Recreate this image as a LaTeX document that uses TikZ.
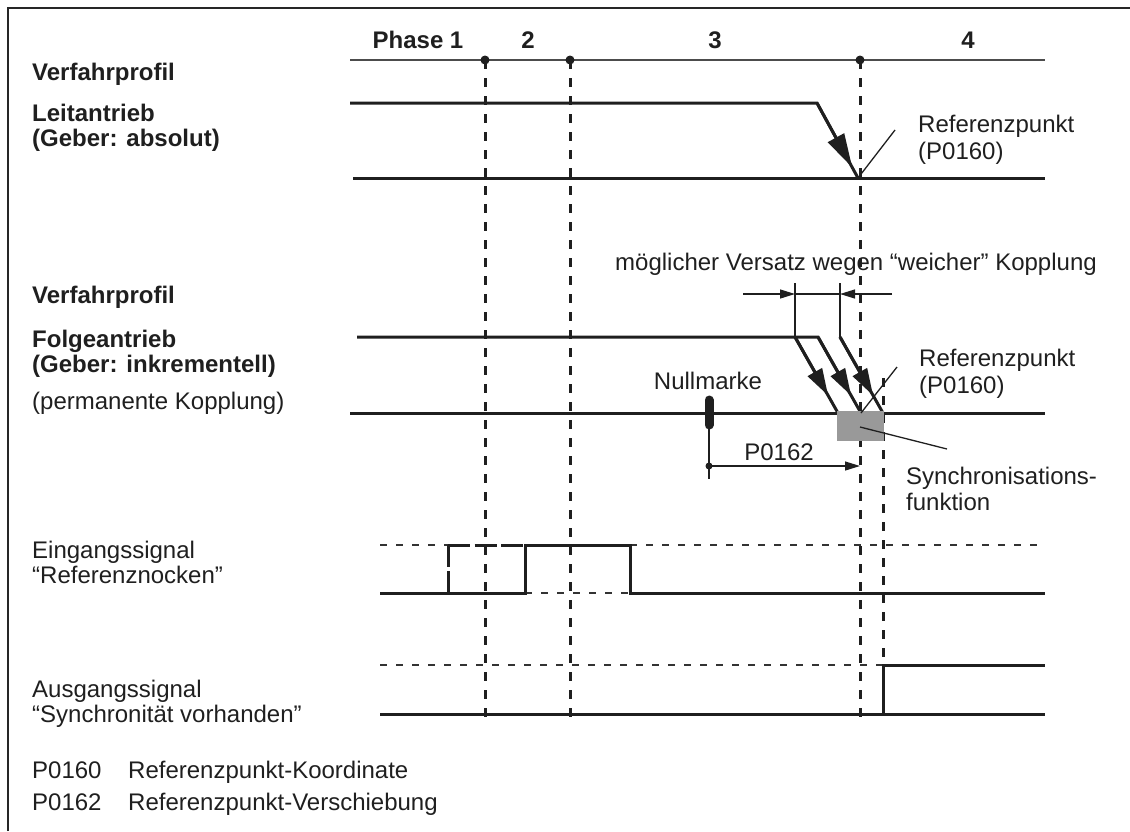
\documentclass[tikz,border=0pt]{standalone}
\usepackage{fontspec}
\setmainfont{Liberation Sans}
\usetikzlibrary{arrows.meta,calc}
\begin{document}
\begin{tikzpicture}[x=1pt,y=-1pt,
  lbl/.style={font=\fontsize{24}{26}\selectfont, text=black!88, inner sep=0pt, anchor=base west},
  lblb/.style={font=\fontsize{24}{26}\selectfont\bfseries, text=black!88, inner sep=0pt, anchor=base west},
  ctr/.style={font=\fontsize{24}{26}\selectfont, text=black!88, inner sep=0pt, anchor=base},
  ctrb/.style={font=\fontsize{24}{26}\selectfont\bfseries, text=black!88, inner sep=0pt, anchor=base},
  sig/.style={line width=3pt, black!88},
  tline/.style={line width=2.4pt, black!70},
  guide/.style={line width=3pt, dash pattern=on 9pt off 9pt, black!88},
  lvl/.style={line width=1.3pt, dash pattern=on 7pt off 9pt, black!80},
  alt/.style={line width=3pt, dash pattern=on 22pt off 4.5pt, black!88},
  thin/.style={line width=1.3pt, black!88},
  bighead/.style={-{Triangle[length=34pt,width=18pt]}},
  midhead/.style={-{Triangle[length=27pt,width=16pt]}},
  smallhead/.style={-{Triangle[length=15pt,width=9pt]}},
  dotm/.style={circle, fill=black!88, inner sep=0pt, minimum size=9pt},
]
\useasboundingbox (0,0) rectangle (1130,831);
% frame
\draw[line width=2pt, black!85] (8,831) -- (8,8) -- (1130,8);

% timeline
\coordinate (tl0) at (350,60);
\coordinate (tl1) at (1045,60);
\draw[tline] (tl0) -- (tl1);
\coordinate (p1) at (485,60);
\coordinate (p2) at (570,60);
\coordinate (p3) at (860,60);
\coordinate (p1b) at (485,717);
\coordinate (p2b) at (570,717);
\coordinate (p3b) at (860,717);
\coordinate (p4t) at (883,378);
\coordinate (p4b) at (883,665);
\draw[guide] (p1) -- (p1b);
\draw[guide] (p2) -- (p2b);
\draw[guide] (p3) -- (p3b);
\draw[guide] (p4t) -- (p4b);
\node[dotm] (d1) at (p1) {};
\node[dotm] (d2) at (p2) {};
\node[dotm] (d3) at (p3) {};

\node[ctrb] (ph1) at (418,48) {Phase 1};
\node[ctrb] (ph2) at (528,48) {2};
\node[ctrb] (ph3) at (715,48) {3};
\node[ctrb] (ph4) at (968,48) {4};

% left labels
\node[lblb] (vp1) at (32,80) {Verfahrprofil};
\node[lblb] (la1) at (32,121) {Leitantrieb};
\node[lblb] (la2) at (32,146) {(Geber: absolut)};
\node[lblb] (vp2) at (32,303) {Verfahrprofil};
\node[lblb] (fa1) at (32,347) {Folgeantrieb};
\node[lblb] (fa2) at (32,372) {(Geber: inkrementell)};
\node[lbl] (pk) at (32,409) {(permanente Kopplung)};
\node[lbl] (es1) at (32,558) {Eingangssignal};
\node[lbl] (es2) at (32,583) {“Referenznocken”};
\node[lbl] (as1) at (32,697) {Ausgangssignal};
\node[lbl] (as2) at (32,722) {“Synchronität vorhanden”};
\node[lbl] (lg1a) at (32,778) {P0160};
\node[lbl] (lg1b) at (128,778) {Referenzpunkt-Koordinate};
\node[lbl] (lg2a) at (32,810) {P0162};
\node[lbl] (lg2b) at (128,810) {Referenzpunkt-Verschiebung};

% Leitantrieb
\coordinate (la) at (350,103);
\coordinate (lb) at (817,103);
\coordinate (lc) at (858,178);
\coordinate (ld) at (353,178);
\coordinate (le) at (1045,178);
\coordinate (lr) at (895,130);
\draw[sig] (la) -- (lb) -- (lc);
\draw[sig] (ld) -- (le);
\draw[sig, bighead] (lb) -- ($(lb)!0.86!(lc)$);
\draw[thin] (lc) -- (lr);
\node[lbl] (rpa1) at (918,132) {Referenzpunkt};
\node[lbl] (rpa2) at (918,159) {(P0160)};

% Folgeantrieb
\coordinate (fa) at (357,337);
\coordinate (s1) at (795,337);
\coordinate (e1) at (838,413);
\coordinate (s2) at (818,337);
\coordinate (e2) at (861,413);
\coordinate (s3) at (840,337);
\coordinate (e3) at (883,413);
\coordinate (fc) at (350,413);
\coordinate (fd) at (1045,413);
\draw[sig] (fa) -- (s2) -- (e2);
\draw[sig] (s1) -- (e1);
\draw[sig] (s3) -- (e3);
\draw[sig] (fc) -- (fd);
\draw[sig, midhead] (s1) -- ($(s1)!0.77!(e1)$);
\draw[sig, midhead] (s2) -- ($(s2)!0.77!(e2)$);
\draw[sig, midhead] (s3) -- ($(s3)!0.77!(e3)$);

% dimension
\coordinate (v1t) at (795,283);
\coordinate (v2t) at (840,283);
\coordinate (h1) at (743,294);
\coordinate (h1e) at (795,294);
\coordinate (h2) at (892,294);
\coordinate (h2e) at (840,294);
\draw[thin] (v1t) -- (s1);
\draw[thin] (v2t) -- (s3);
\draw[thin] (h1e) -- (h2e);
\draw[thin, smallhead] (h1) -- (h1e);
\draw[thin, smallhead] (h2) -- (h2e);
\node[ctr] (mv) at (856,270) {möglicher Versatz wegen “weicher” Kopplung};

% reference point follower
\coordinate (fr) at (897,367);
\node[lbl] (rpf1) at (919,366) {Referenzpunkt};
\node[lbl] (rpf2) at (919,393) {(P0160)};

% Nullmarke
\coordinate (nm1) at (709,400);
\coordinate (nm2) at (709,425);
\coordinate (nm3) at (709,479);
\coordinate (nmd) at (709,466);
\coordinate (nme) at (860,466);
\draw[line width=9pt, line cap=round, black!88] (nm1) -- (nm2);
\draw[thin] (nm2) -- (nm3);
\draw[thin, smallhead] (nmd) -- (nme);
\node[circle, fill=black!88, inner sep=0pt, minimum size=7pt] (nmdot) at (nmd) {};
\node[ctr] (nmt) at (708,389) {Nullmarke};
\node[ctr] (p162) at (779,460) {P0162};

% sync box
\node[fill=black!40, inner sep=0pt, minimum width=47pt, minimum height=30pt, anchor=north west] (sbox) at (837,411) {};
\draw[thin] (e2) -- (fr);
\coordinate (sl1) at (860,427);
\coordinate (sl2) at (947,449);
\draw[thin] (sl1) -- (sl2);
\node[lbl] (sf1) at (906,484) {Synchronisations-};
\node[lbl] (sf2) at (906,510) {funktion};

% Eingangssignal
\draw[lvl] (380,545) -- (448,545);
\draw[lvl] (630,545) -- (1045,545);
\draw[lvl] (525,593) -- (630,593);
\draw[sig] (380,593) -- (525,593) -- (525,545) -- (630,545) -- (630,593) -- (1045,593);
\draw[alt] (448,593) -- (448,545);
\draw[alt] (448,545) -- (525,545);

% Ausgangssignal
\draw[lvl] (380,665) -- (883,665);
\draw[sig] (380,714) -- (1045,714);
\draw[sig] (883,714) -- (883,665) -- (1045,665);
\end{tikzpicture}
\end{document}
